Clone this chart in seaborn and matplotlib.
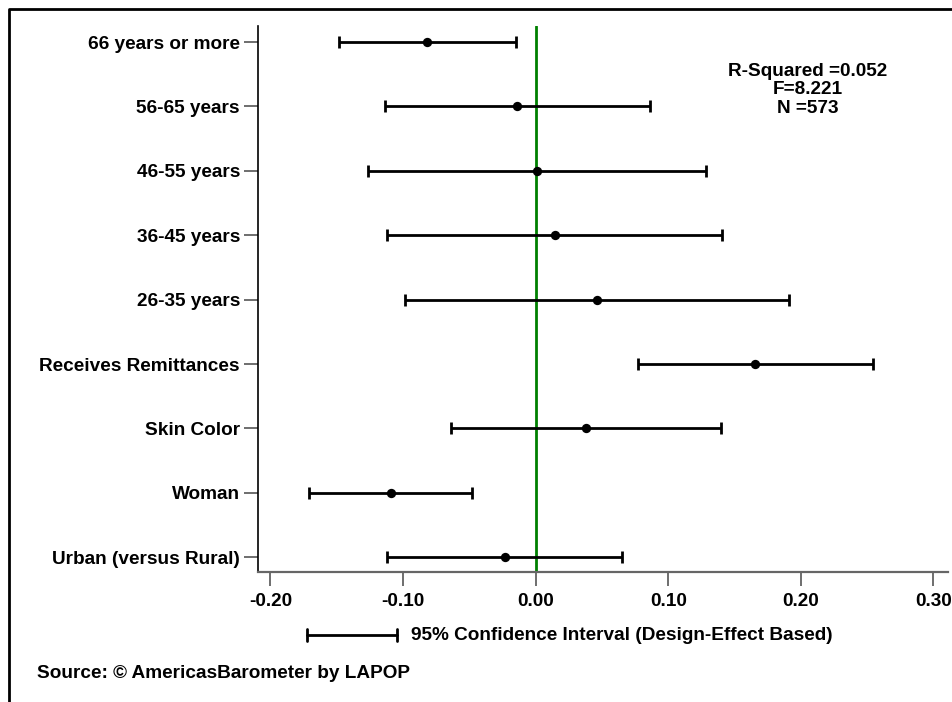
import numpy as np
import pandas as pd
import matplotlib
matplotlib.use("Agg")
import matplotlib.pyplot as plt
import seaborn as sns

categories = ["66 years or more", "56-65 years", "46-55 years", "36-45 years",
              "26-35 years", "Receives Remittances", "Skin Color", "Woman",
              "Urban (versus Rural)"]
coef = [-0.0820, -0.0141, 0.0008, 0.0143, 0.0460, 0.1658, 0.0379, -0.1094, -0.0234]
ci_low = [-0.1483, -0.1139, -0.1267, -0.1119, -0.0986, 0.0775, -0.0639, -0.1712, -0.1119]
ci_high = [-0.0151, 0.0860, 0.1284, 0.1403, 0.1910, 0.2544, 0.1395, -0.0478, 0.0653]
xticks = [-0.20, -0.10, 0.00, 0.10, 0.20, 0.30]
xtick_labels = ["-0.20", "-0.10", "0.00", "0.10", "0.20", "0.30"]
stats_text = "R-Squared =0.052\nF=8.221\nN =573"
legend_text = "95% Confidence Interval (Design-Effect Based)"
source_text = "Source: \u00a9 AmericasBarometer by LAPOP"

sns.set_theme(style="white")
plt.rcParams['font.family'] = ['Liberation Sans', 'DejaVu Sans']
plt.rcParams['font.weight'] = 'bold'
plt.rcParams['text.color'] = 'black'
plt.rcParams['xtick.labelcolor'] = 'black'
plt.rcParams['ytick.labelcolor'] = 'black'

FS = 13.7

n = len(categories)
df = pd.DataFrame({
    "category": categories,
    "coef": coef,
    "lo": ci_low,
    "hi": ci_high,
    "pos": np.arange(n)[::-1].astype(float),
})

fig = plt.figure(figsize=(9.53, 7.02), dpi=100)
ax = fig.add_axes([258 / 953, 1 - 572 / 702, (948 - 258) / 953, (572 - 26) / 702])

ax.axvline(0, color="#008000", lw=2, zorder=1)
ax.errorbar(df["coef"], df["pos"],
            xerr=[df["coef"] - df["lo"], df["hi"] - df["coef"]],
            fmt="none", ecolor="black", elinewidth=2, capsize=4.5, capthick=2, zorder=2)
sns.scatterplot(data=df, x="coef", y="pos", ax=ax, color="black", s=45,
                edgecolor="black", linewidth=0, zorder=3, legend=False)

ax.set_xlim(-0.2094, 0.311)
ax.set_ylim(-0.23, n - 1 + 0.25)
ax.set_yticks(df["pos"])
ax.set_yticklabels(df["category"], fontsize=FS, fontweight="bold", color="black")
ax.set_xticks(xticks)
ax.set_xticklabels(xtick_labels, fontsize=FS, fontweight="bold", color="black")
ax.set_xlabel("")
ax.set_ylabel("")

for s in ["top", "right"]:
    ax.spines[s].set_visible(False)
ax.spines["left"].set_color("black")
ax.spines["left"].set_linewidth(1.2)
ax.spines["bottom"].set_color("#666666")
ax.spines["bottom"].set_linewidth(1.6)
ax.tick_params(axis="x", direction="out", length=10, width=1.2, color="#555555", pad=5, bottom=True)
ax.tick_params(axis="y", direction="out", length=10, width=1.2, color="#555555", pad=3, left=True)

ax.text(808 / 953, 1 - 90 / 702, stats_text, transform=fig.transFigure,
        ha="center", va="center", fontsize=FS, fontweight="bold", linespacing=1.12)
# legend for CI
fig.lines.append(plt.Line2D([307 / 953, 397 / 953], [1 - 635 / 702, 1 - 635 / 702],
                            transform=fig.transFigure, color="black", lw=2))
for xx in (307, 397):
    fig.lines.append(plt.Line2D([xx / 953, xx / 953], [1 - 629 / 702, 1 - 641 / 702],
                                transform=fig.transFigure, color="black", lw=2))
fig.text(411 / 953, 1 - 635 / 702, legend_text, ha="left", va="center",
         fontsize=FS, fontweight="bold")
fig.text(37 / 953, 1 - 673 / 702, source_text, ha="left", va="center",
         fontsize=FS, fontweight="bold")

# outer frame (top and left visible)
fig.lines.append(plt.Line2D([9.5 / 953, 9.5 / 953, 1.1], [-0.1, 1 - 8.5 / 702, 1 - 8.5 / 702],
                            transform=fig.transFigure, color="black", lw=2))

fig.savefig("out.png", dpi=100, facecolor="white")
